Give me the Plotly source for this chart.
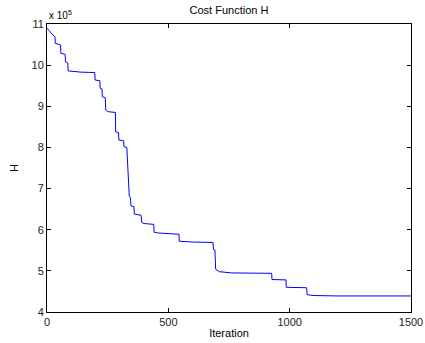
import plotly.graph_objects as go

# Iteration values and cost H (in units of 1e5)
iteration = [0, 8, 20, 33, 34, 56, 57, 75, 76, 86, 87, 140, 197, 198, 218, 219, 227, 228,
             240, 242, 250, 282, 283, 295, 296, 316, 317, 329, 331, 335, 339, 344, 346,
             358, 360, 388, 390, 400, 440, 441, 460, 544, 545, 600, 684, 686, 692, 695,
             710, 760, 926, 927, 985, 986, 1070, 1072, 1100, 1200, 1500]
cost_h = [10.90, 10.84, 10.76, 10.69, 10.53, 10.49, 10.29, 10.26, 10.08, 10.05, 9.86, 9.83,
          9.82, 9.64, 9.62, 9.44, 9.42, 9.23, 9.21, 8.91, 8.87, 8.85, 8.38, 8.36, 8.18,
          8.16, 8.02, 8.00, 7.82, 7.30, 6.82, 6.78, 6.58, 6.56, 6.38, 6.35, 6.18, 6.15,
          6.13, 5.94, 5.92, 5.89, 5.72, 5.70, 5.69, 5.52, 5.51, 5.04, 4.98, 4.95, 4.94,
          4.79, 4.78, 4.60, 4.59, 4.42, 4.40, 4.39, 4.39]

x_ticks = [0, 500, 1000, 1500]
y_ticks = [4, 5, 6, 7, 8, 9, 10, 11]

font = "Liberation Sans, Arial, sans-serif"

fig = go.Figure()
fig.add_trace(go.Scatter(x=iteration, y=cost_h, mode="lines",
                         line=dict(color="#0000ff", width=1), showlegend=False,
                         hoverinfo="skip"))

axis_common = dict(showline=True, linecolor="black", linewidth=1, mirror="ticks",
                   ticks="inside", ticklen=4, tickcolor="black", showgrid=False,
                   zeroline=False, automargin=False,
                   tickfont=dict(family=font, size=11, color="#222222"))

fig.update_layout(
    template="none",
    width=425, height=343,
    margin=dict(l=47, r=14, t=24, b=31),
    paper_bgcolor="white", plot_bgcolor="white",
    title=dict(text="Cost Function H", x=0.5, xanchor="center", xref="paper",
               y=1 - 10 / 343, yanchor="middle",
               font=dict(family=font, size=11, color="black")),
    xaxis=dict(range=[0, 1500], tickvals=x_ticks, ticktext=[str(v) for v in x_ticks],
               title=dict(text="Iteration", font=dict(family=font, size=11, color="black"),
                          standoff=2),
               **axis_common),
    yaxis=dict(range=[4, 11], tickvals=y_ticks, ticktext=[str(v) for v in y_ticks],
               title=dict(text="H", font=dict(family=font, size=11, color="black"),
                          standoff=10),
               **axis_common),
    annotations=[dict(text="x 10<sup>5</sup>", x=0, y=1, xref="paper", yref="paper",
                      xanchor="left", yanchor="bottom", showarrow=False, yshift=1,
                      font=dict(family=font, size=10, color="black"))],
)

fig.write_html("out.html", config={"displayModeBar": False},
               post_script="document.body.style.margin='0';")
